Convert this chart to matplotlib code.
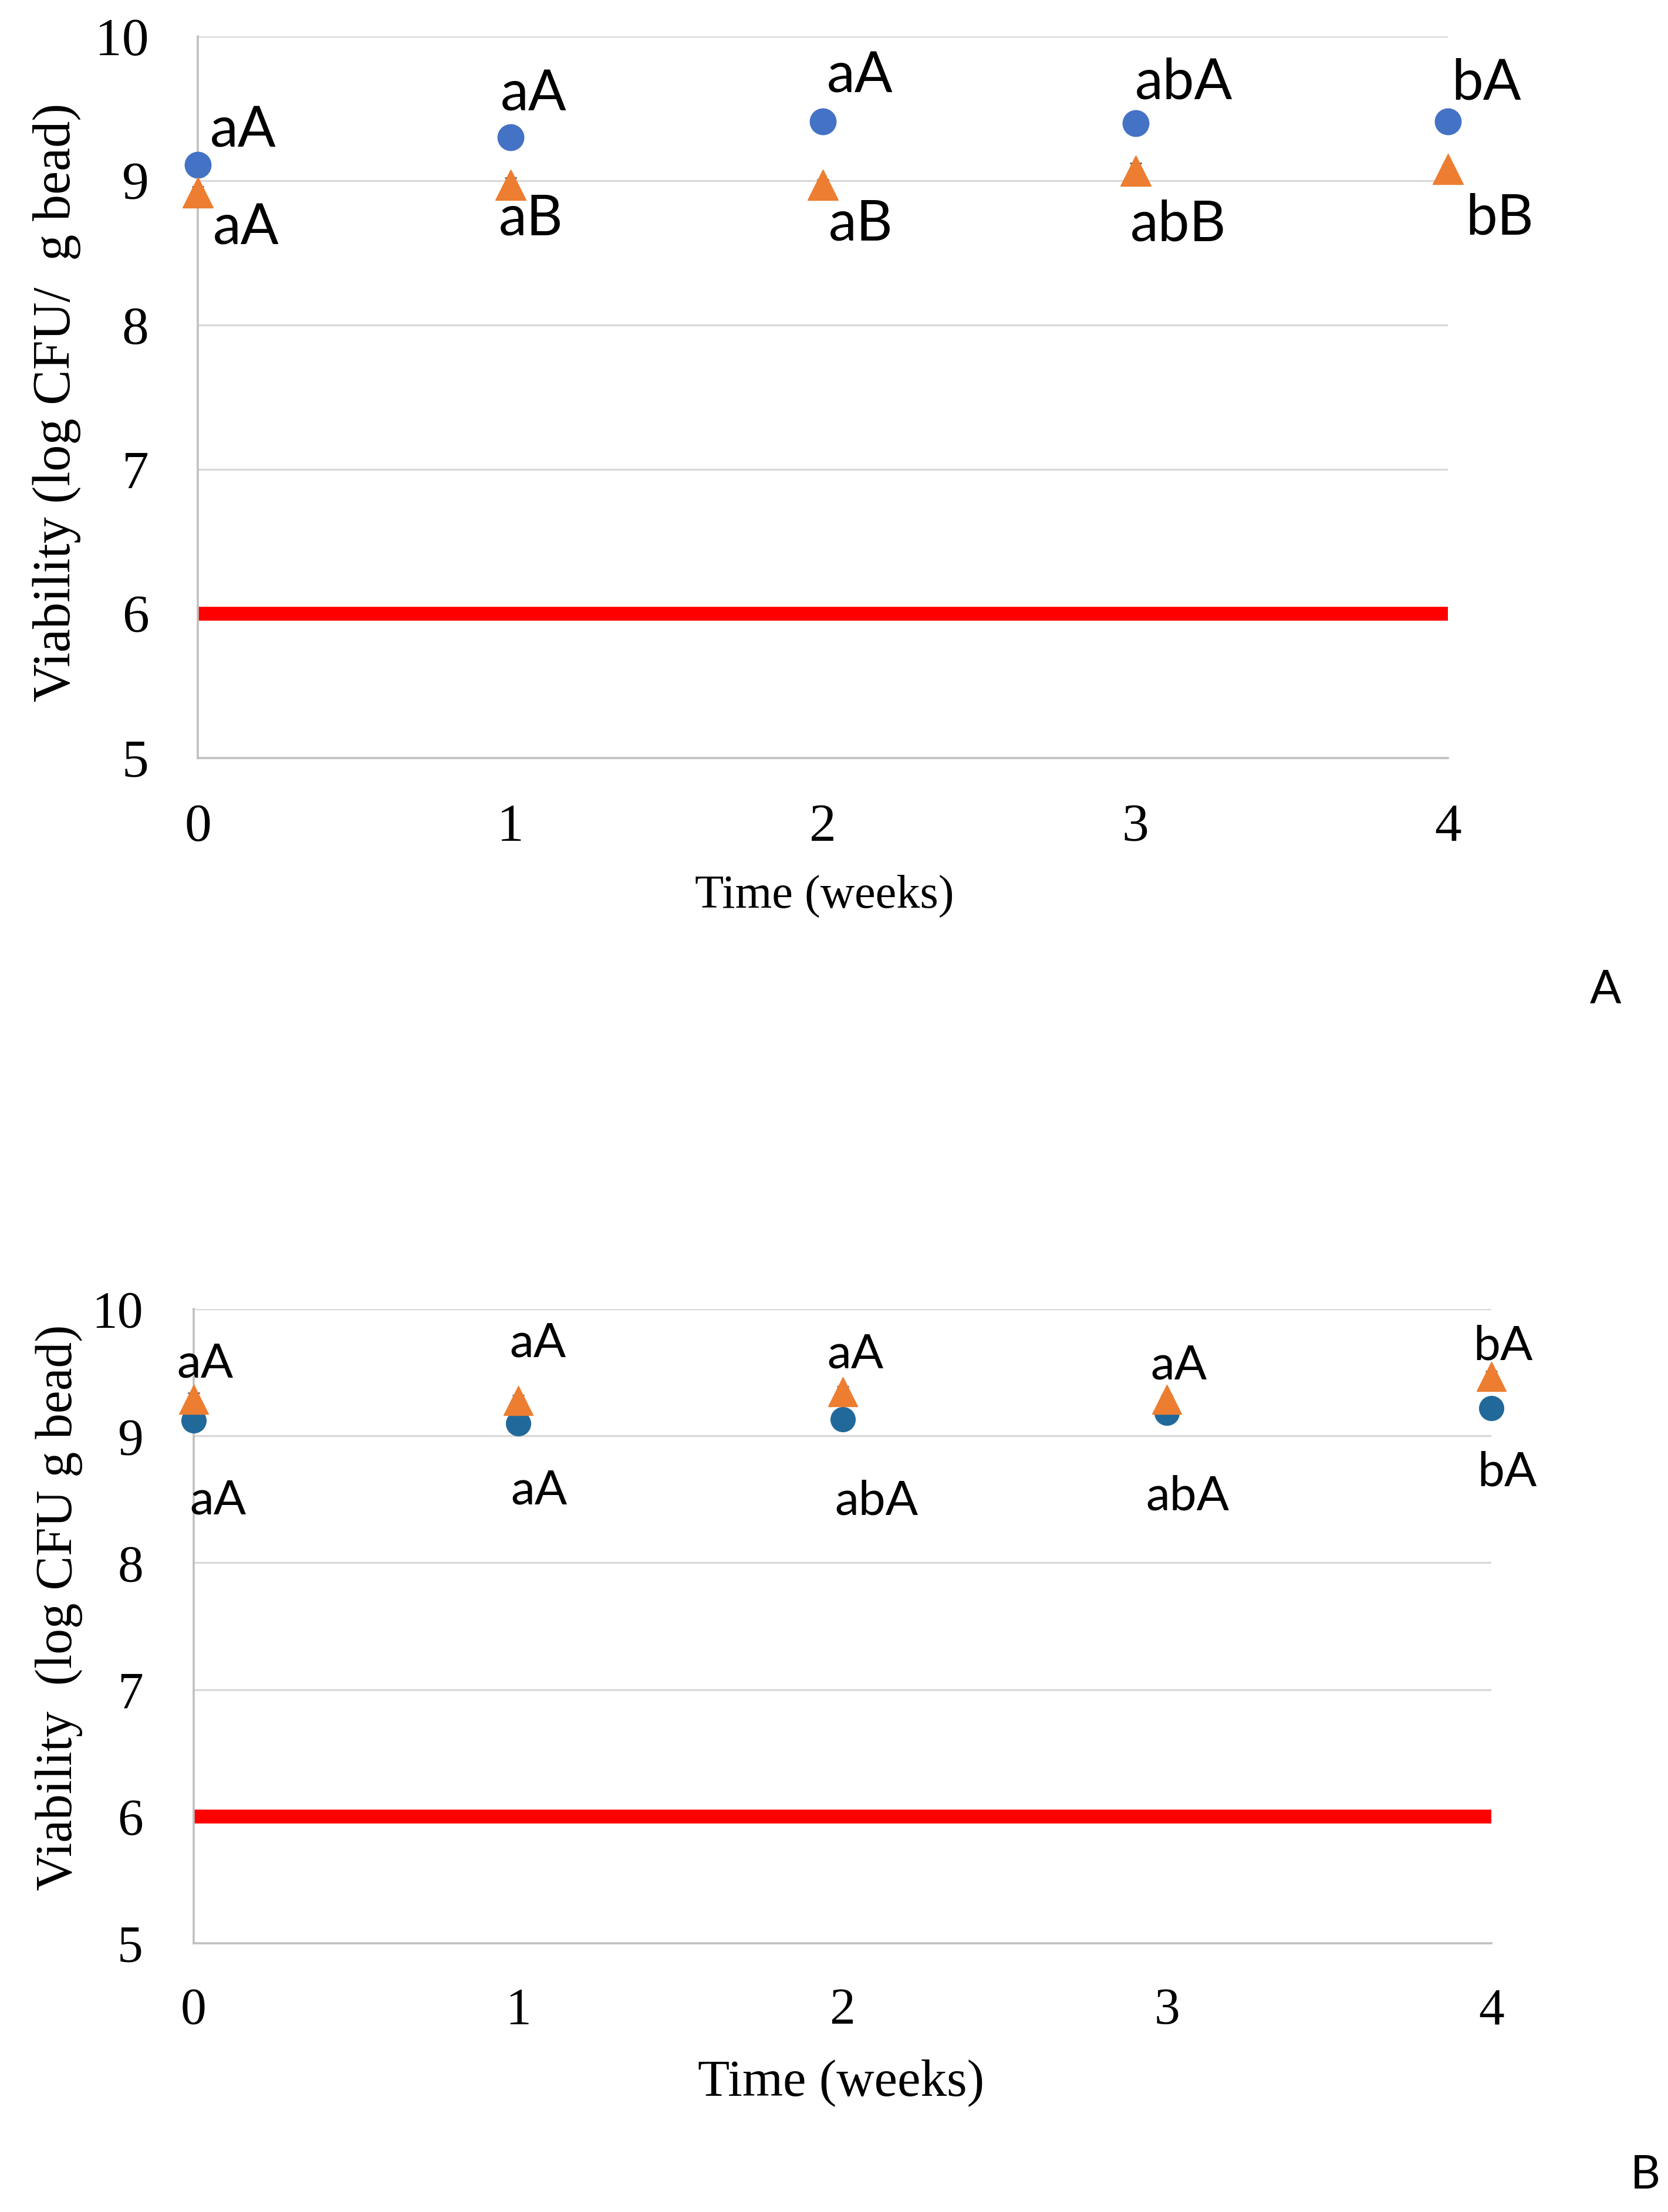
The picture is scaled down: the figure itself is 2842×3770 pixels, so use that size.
import matplotlib
matplotlib.use("Agg")
import matplotlib.pyplot as plt

# values (log CFU / g bead)
weeks = [0, 1, 2, 3, 4]

a_circle = [9.11, 9.30, 9.41, 9.40, 9.41]
a_circle_err = [0.02, 0.02, 0.02, 0.02, 0.02]
a_triangle = [8.92, 8.97, 8.97, 9.07, 9.08]
a_triangle_err = [0.04, 0.05, 0.04, 0.05, 0.03]

b_circle = [9.12, 9.10, 9.13, 9.18, 9.22]
b_circle_err = [0.02, 0.02, 0.02, 0.02, 0.02]
b_triangle = [9.29, 9.28, 9.35, 9.29, 9.47]
b_triangle_err = [0.05, 0.04, 0.04, 0.03, 0.04]

a_circle_letters = ['aA', 'aA', 'aA', 'abA', 'bA']
a_triangle_letters = ['aA', 'aB', 'aB', 'abB', 'bB']
b_triangle_letters = ['aA', 'aA', 'aA', 'aA', 'bA']
b_circle_letters = ['aA', 'aA', 'abA', 'abA', 'bA']

limit = 6
y_ticks = [5, 6, 7, 8, 9, 10]

# label offsets in pixels (text centre x, baseline y) from the marker
a_up_off = [(77, 30), (40, 46), (63, 50), (83, 41), (66, 38)]
a_lo_off = [(82, -89), (35, -85), (65, -94), (73, -120), (88, -111)]
b_up_off = [(20, 37), (34, 74), (22, 40), (20, 34), (20, 28)]
b_lo_off = [(42, -159), (36, -138), (58, -162), (35, -165), (27, -133)]

W, H = 2842, 3770
fig = plt.figure(figsize=(W / 100, H / 100), dpi=100)

SERIF = 'Liberation Serif'
SANS = 'Lato'
GRID = '#D9D9D9'
SPINE = '#BFBFBF'


def panel(rect, circ, circ_err, tri, tri_err, circ_col, tick_fs, pad_x, pad_y,
          ms_c, ms_t):
    ax = fig.add_axes(rect)
    ax.set_xlim(0, 4)
    ax.set_ylim(5, 10)
    ax.set_yticks(y_ticks)
    ax.set_xticks(weeks)
    ax.grid(axis='y', color=GRID, lw=2.4)
    ax.set_axisbelow(True)
    for s in ['top', 'right']:
        ax.spines[s].set_visible(False)
    for s in ['left', 'bottom']:
        ax.spines[s].set_color(SPINE)
        ax.spines[s].set_linewidth(2.6)
    ax.tick_params(axis='both', length=0, labelsize=tick_fs)
    ax.tick_params(axis='x', pad=pad_x)
    ax.tick_params(axis='y', pad=pad_y)
    for t in ax.get_xticklabels() + ax.get_yticklabels():
        t.set_fontfamily(SERIF)

    ax.axhline(limit, color='#FF0000', lw=17, solid_capstyle='butt', zorder=2)

    ax.errorbar(weeks, circ, yerr=circ_err, fmt='o', ms=ms_c, color=circ_col,
                ecolor='#595959', elinewidth=2, capsize=7, capthick=2,
                clip_on=False, zorder=3)
    ax.errorbar(weeks, tri, yerr=tri_err, fmt='^', ms=ms_t, color='#ED7D31',
                ecolor='#595959', elinewidth=2, capsize=7, capthick=2,
                clip_on=False, zorder=4)
    return ax


def letters(ax, xs, ys, texts, offs, fs):
    for x, y, t, (dx, dy) in zip(xs, ys, texts, offs):
        ax.annotate(t, (x, y), xytext=(dx, dy), textcoords='offset pixels',
                    ha='center', va='baseline', fontsize=fs,
                    fontfamily=SANS, annotation_clip=False)


# panel A
axA = panel([337 / W, 1 - 1292 / H, 2130 / W, 1230 / H],
            a_circle, a_circle_err, a_triangle, a_triangle_err,
            '#4472C4', 66, 56, 60, 32, 38)
letters(axA, weeks, a_circle, a_circle_letters, a_up_off, 69)
letters(axA, weeks, a_triangle, a_triangle_letters, a_lo_off, 69)
axA.set_ylabel('Viability (log CFU/  g bead)', fontsize=65, fontfamily=SERIF,
               va='center', ha='center')
axA.yaxis.set_label_coords(-0.1127, 0.4927)
axA.set_xlabel('Time (weeks)', fontsize=58, fontfamily=SERIF,
               va='center', ha='center')
axA.xaxis.set_label_coords(0.5014, -0.191)

# panel B
axB = panel([330 / W, 1 - 3312 / H, 2211 / W, 1081 / H],
            b_circle, b_circle_err, b_triangle, b_triangle_err,
            '#21699A', 63, 54, 62, 30, 36)
letters(axB, weeks, b_triangle, b_triangle_letters, b_up_off, 59)
letters(axB, weeks, b_circle, b_circle_letters, b_lo_off, 59)
axB.set_ylabel('Viability  (log CFU g bead)', fontsize=63, fontfamily=SERIF,
               va='center', ha='center')
axB.yaxis.set_label_coords(-0.104, 0.529)
axB.set_xlabel('Time (weeks)', fontsize=64, fontfamily=SERIF,
               va='center', ha='center')
axB.xaxis.set_label_coords(0.499, -0.220)

fig.text(2736 / W, 1 - 1710 / H, 'A', fontsize=57, fontfamily=SANS,
         ha='center', va='baseline')
fig.text(2803 / W, 1 - 3730 / H, 'B', fontsize=57, fontfamily=SANS,
         ha='center', va='baseline')

fig.savefig('out.png', dpi=100, facecolor='white')
